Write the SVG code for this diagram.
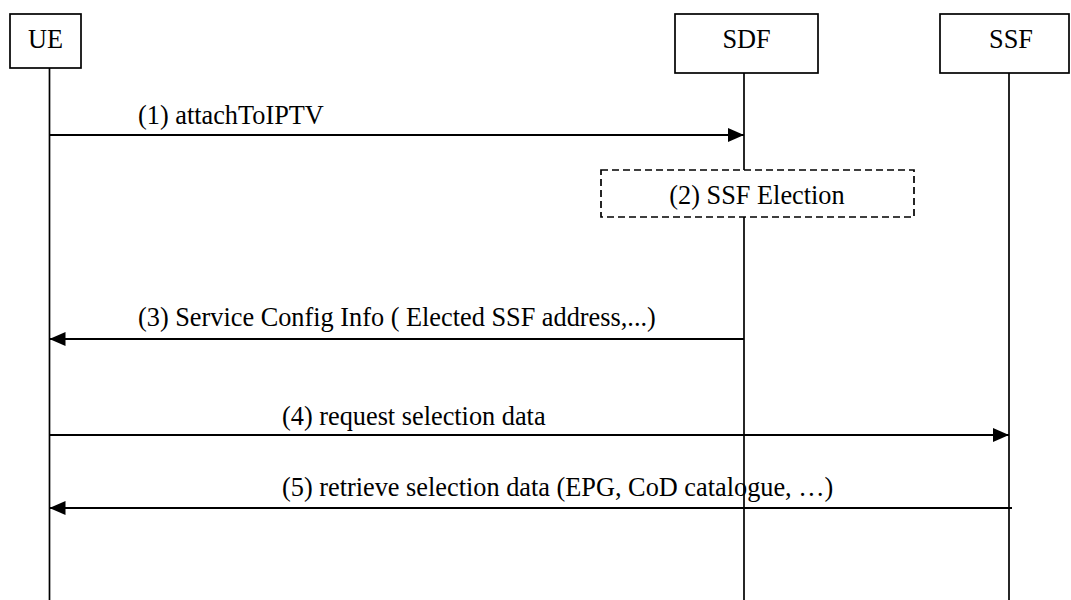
<svg xmlns="http://www.w3.org/2000/svg" width="1071" height="600" viewBox="0 0 1071 600">
<defs>
<style>
.box{fill:#fff;stroke:#000;stroke-width:1.7}
.life{stroke:#000;stroke-width:1.7;fill:none}
.msg{stroke:#000;stroke-width:1.9;fill:none}
.dash{fill:#fff;stroke:#000;stroke-width:1.7;stroke-dasharray:7,4}
</style>
<marker id="ah" viewBox="0 0 16 14" refX="16" refY="7" markerWidth="16" markerHeight="14" markerUnits="userSpaceOnUse" orient="auto">
<path d="M0,0 L16,7 L0,14 Z" fill="#000"/>
</marker>
</defs>
<rect width="1071" height="600" fill="#fff"/>
<g id="lifelines">
<line class="life" x1="49.5" y1="68" x2="49.5" y2="600"/>
<line class="life" x1="744" y1="73" x2="744" y2="170"/>
<line class="life" x1="744" y1="217" x2="744" y2="600"/>
<line class="life" x1="1009" y1="73" x2="1009" y2="600"/>
</g>
<g font-family="Liberation Serif, Times New Roman, serif" font-size="26.3" fill="#000">
<g id="node-UE">
<rect class="box" x="10" y="14" width="71" height="54"/>
<text x="45.5" y="48" text-anchor="middle">UE</text>
</g>
<g id="node-SDF">
<rect class="box" x="675" y="14" width="143" height="59"/>
<text x="746.5" y="48" text-anchor="middle">SDF</text>
</g>
<g id="node-SSF">
<rect class="box" x="940" y="14" width="129" height="59"/>
<text x="1011" y="48" text-anchor="middle">SSF</text>
</g>
<g id="node-election">
<rect class="dash" x="601" y="170" width="313" height="47"/>
<text x="757" y="204" text-anchor="middle">(2) SSF Election</text>
</g>
<g id="connectors">
<line class="msg" x1="49.5" y1="135" x2="744" y2="135" marker-end="url(#ah)"/>
<text x="138" y="124">(1) attachToIPTV</text>
<line class="msg" x1="744" y1="339" x2="49.5" y2="339" marker-end="url(#ah)"/>
<text x="138" y="326">(3) Service Config Info ( Elected SSF address,...)</text>
<line class="msg" x1="49.5" y1="435" x2="1009" y2="435" marker-end="url(#ah)"/>
<text x="282" y="425">(4) request selection data</text>
<line class="msg" x1="1012" y1="508" x2="49.5" y2="508" marker-end="url(#ah)"/>
<text x="282" y="496">(5) retrieve selection data (EPG, CoD catalogue, …)</text>
</g>
</g>
</svg>
